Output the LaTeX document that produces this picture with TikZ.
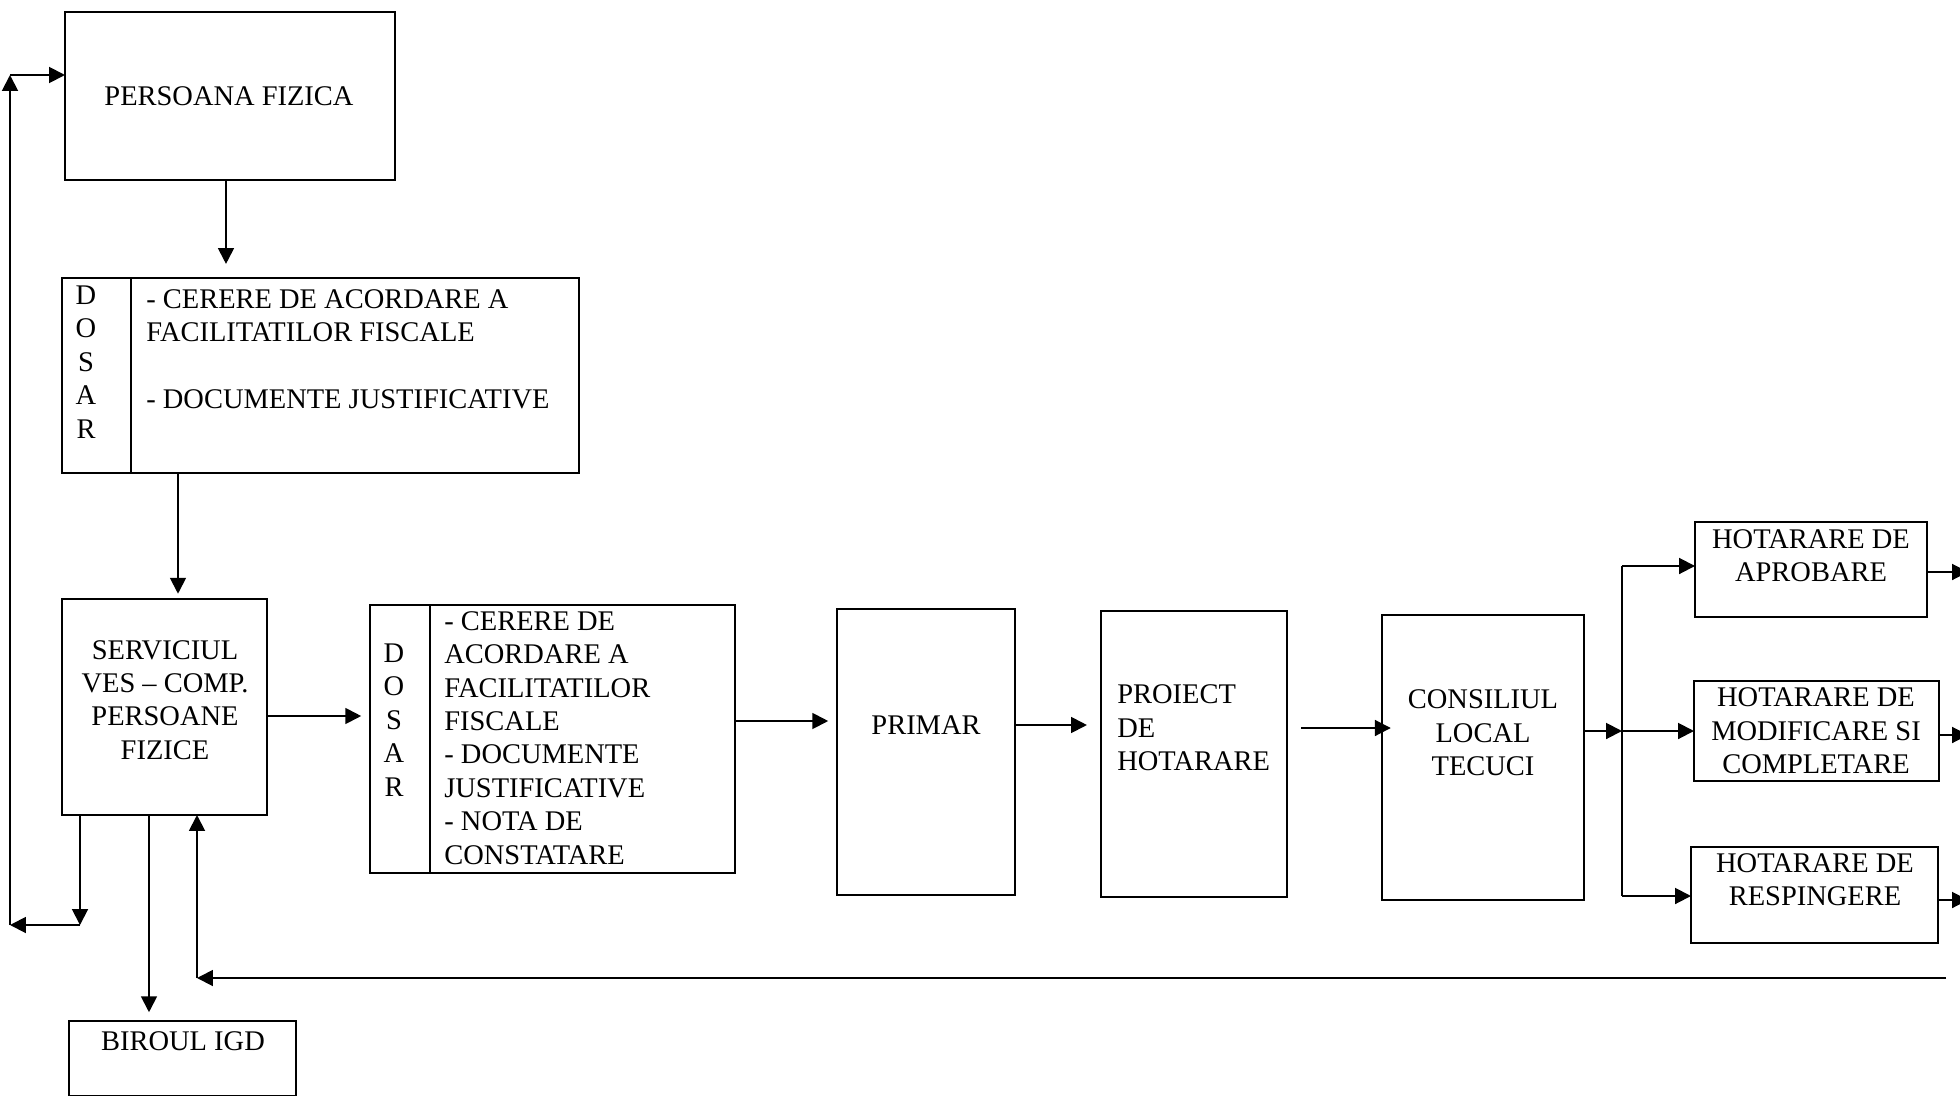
\documentclass[tikz,border=0pt]{standalone}
\usepackage{fontspec}
\setmainfont{Liberation Serif}
\usetikzlibrary{arrows.meta}
\tikzset{
  box/.style={draw, line width=1.1pt, inner sep=0pt, outer sep=0pt},
  txt/.style={font=\fontsize{16.2}{19}\selectfont, inner sep=0pt},
  arr/.style={line width=1.1pt, -{Triangle[length=9pt,width=9pt]}},
  ln/.style={line width=1.1pt}
}
\newcommand\bx[5]{\node[box, minimum width={(#4-#2)*0.02cm}, minimum height={(#5-#3)*0.02cm}] (#1) at ({(#2+#4)/2},{(#3+#5)/2}) {};}
\begin{document}
\begin{tikzpicture}[x=0.02cm,y=-0.02cm]
\useasboundingbox (0,0) rectangle (1960,1095);
% boxes
\bx{pf}{65}{12}{395}{180}
\bx{d1}{62}{278}{579}{473}
\bx{sv}{62}{599}{267}{815}
\bx{ig}{69}{1021}{296}{1096}
\bx{d2}{370}{605}{735}{873}
\bx{pr}{837}{609}{1015}{895}
\bx{ph}{1101}{611}{1287}{897}
\bx{cl}{1382}{615}{1584}{900}
\bx{ha}{1695}{522}{1927}{617}
\bx{hm}{1694}{681}{1939}{781}
\bx{hr}{1691}{847}{1938}{943}
% dividers
\draw[ln] (d1.north -| 131,0) -- (d1.south -| 131,0);
\draw[ln] (d2.north -| 430,0) -- (d2.south -| 430,0);
% texts
\node[txt] (tpf) at (229,96) {PERSOANA FIZICA};
\node[txt, align=center] (l1) at (86,362) {D\\O\\S\\A\\R};
\node[txt, align=left, anchor=west] (t1) at (146,349) {- CERERE DE ACORDARE A\\FACILITATILOR FISCALE\\[19pt]- DOCUMENTE JUSTIFICATIVE};
\node[txt, align=center] (tsv) at (165,700) {SERVICIUL\\VES -- COMP.\\PERSOANE\\FIZICE};
\node[txt] (tig) at (183,1041) {BIROUL IGD};
\node[txt, align=center] (l2) at (394,720) {D\\O\\S\\A\\R};
\node[txt, align=left, anchor=west] (t2) at (444,738) {- CERERE DE\\ACORDARE A\\FACILITATILOR\\FISCALE\\- DOCUMENTE\\JUSTIFICATIVE\\- NOTA DE\\CONSTATARE};
\node[txt] (tpr) at (926,725) {PRIMAR};
\node[txt, align=left, anchor=west] (tph) at (1117,728) {PROIECT\\DE\\HOTARARE};
\node[txt, align=center] (tcl) at (1483,733) {CONSILIUL\\LOCAL\\TECUCI};
\node[txt, align=center] (tha) at (1811,556) {HOTARARE DE\\APROBARE};
\node[txt, align=center] (thm) at (1816,731) {HOTARARE DE\\MODIFICARE SI\\COMPLETARE};
\node[txt, align=center] (thr) at (1815,880) {HOTARARE DE\\RESPINGERE};
% coordinates
\coordinate (c1) at (80,925);
\coordinate (c2) at (10,925);
\coordinate (c3) at (10,75);
\coordinate (fc) at (197,978);
\coordinate (fb) at (1946,995);
\coordinate (jn) at (1622,731);
\coordinate (jt) at (1622,566);
\coordinate (jb) at (1622,896);
\coordinate (oa) at (1968,572);
\coordinate (om) at (1968,735);
\coordinate (or) at (1968,900);
% connectors
\draw[arr, shorten >=8] (pf.south -| 226,0) -- (d1.north -| 226,0);
\draw[arr, shorten >=3] (d1.south -| 178,0) -- (sv.north -| 178,0);
\draw[arr, shorten >=5] (sv.east |- 0,716) -- (d2.west |- 0,716);
\draw[arr, shorten >=5] (d2.east |- 0,721) -- (pr.west |- 0,721);
\draw[arr, shorten >=8] (pr.east |- 0,725) -- (ph.west |- 0,725);
\draw[arr] ([xshift=8]ph.east |- 0,728) -- ([xshift=5]cl.west |- 0,728);
\draw[arr] (cl.east |- jn) -- (jn);
\draw[ln] (jt) -- (jb);
\draw[arr] (jt) -- (ha.west |- jt);
\draw[arr] (jn) -- (hm.west |- jn);
\draw[arr] (jb) -- (hr.west |- jb);
\draw[arr] (ha.east |- oa) -- (oa);
\draw[arr] (hm.east |- om) -- (om);
\draw[arr] (hr.east |- or) -- (or);
% left loop
\draw[arr] (sv.south -| c1) -- (c1);
\draw[arr] (c1) -- (c2);
\draw[arr] (c2) -- (c3);
\draw[arr] (c3) -- (pf.west |- c3);
% to biroul
\draw[arr, shorten >=5] (sv.south -| 149,0) -- (ig.north -| 149,0);
% feedback
\draw[arr] (fb |- fc) -- (fc);
\draw[arr] (fc) -- (sv.south -| fc);
\end{tikzpicture}
\end{document}
